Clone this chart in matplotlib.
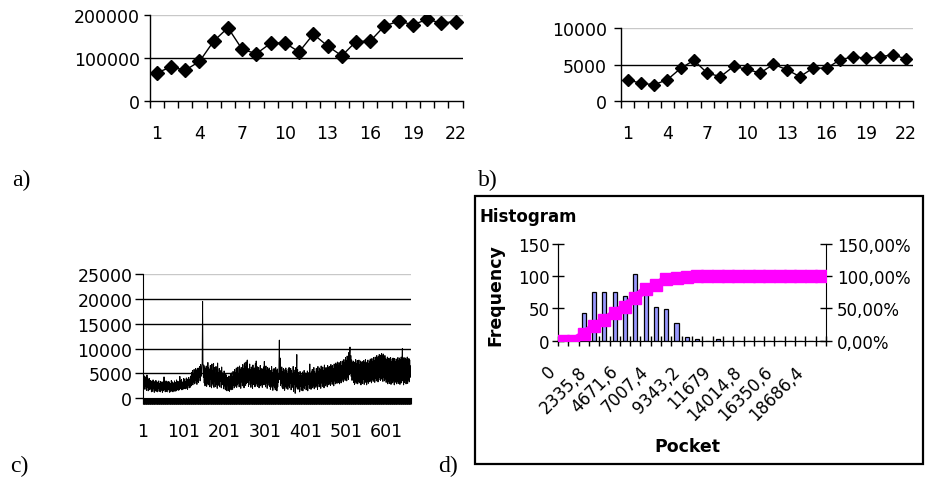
"""
四联图: a) b) 两条 22 点折线, c) 长序列, d) 直方图 + 累积百分比。
"""
import matplotlib
matplotlib.use("Agg")
import matplotlib.pyplot as plt
import matplotlib.transforms as mtransforms
from matplotlib.patches import Rectangle
import numpy as np

plt.rcParams["font.family"] = ["DejaVu Sans"]

# ---- 数据 ----
a_values = [66000, 79000, 72000, 92000, 139000, 170000, 120000, 110000, 134000, 135000, 114000,
            155000, 128000, 105000, 138000, 139000, 174000, 185000, 177000, 189000, 181000, 184000]
b_values = [2950, 2450, 2270, 2950, 4500, 5590, 3860, 3360, 4770, 4360, 3860,
            5050, 4320, 3360, 4550, 4500, 5640, 6090, 5860, 6050, 6360, 5770]
c_values = [
    0, 3500, 4200, 2100, 4500, 1800, 4300, 2500, 3900, 1600, 4700, 2200, 4100, 1500, 3800, 2400, 4000, 1700, 3600, 2000,
    3500, 1300, 3300, 2600, 1400, 3700, 1900, 3200, 1200, 3400, 2300, 1500, 3600, 1400, 2900, 3300, 1300, 3100, 2000, 3500,
    1400, 3000, 2500, 1300, 3400, 1600, 2800, 3200, 1200, 3300, 2100, 1500, 4300, 1800, 3100, 1300, 2700, 3500, 1400, 3200,
    2200, 1300, 3400, 1700, 2900, 3300, 1200, 3000, 2400, 1400, 3600, 1500, 2800, 3300, 1300, 3100, 2000, 1600, 3500, 1400,
    3200, 2500, 1500, 3700, 1800, 3000, 3400, 1600, 3300, 2300, 1700, 4400, 1900, 3500, 2100, 3800, 1700, 3300, 2600, 1800,
    4000, 2000, 3600, 3900, 1900, 3400, 2700, 4100, 2000, 3700, 1800, 3900, 2600, 4200, 2100, 3800, 3000, 2200, 4500, 2500,
    5200, 3100, 5600, 2700, 4900, 3300, 5800, 2900, 5400, 3600, 6000, 3000, 5500, 2800, 5900, 3400, 6100, 3200, 5700, 4300,
    6400, 3500, 6800, 4400, 5200, 6600, 7000, 19500, 5800, 4200, 6700, 3100, 6300, 2500, 5900, 3600, 6500, 2400, 5600, 3000,
    7200, 2700, 6100, 3300, 5800, 2300, 6600, 3800, 5400, 2100, 6900, 3000, 5500, 2600, 7000, 2200, 6200, 3400, 5000, 2400,
    6400, 2800, 5700, 2000, 7100, 3100, 5200, 2600, 6000, 2300, 5600, 3500, 4800, 2100, 6300, 2700, 5100, 2900, 4700, 1900,
    5500, 2500, 4400, 1700, 5000, 2200, 4600, 1500, 4200, 2800, 3900, 1600, 4500, 1400, 3700, 2000, 4800, 1700, 5100, 2300,
    4300, 1800, 5400, 2600, 4900, 2100, 5800, 2400, 5200, 3000, 6100, 2200, 5600, 2700, 6300, 3100, 5000, 2300, 6500, 2800,
    5700, 2000, 6200, 3300, 5300, 2500, 6800, 2900, 5900, 2100, 7100, 3400, 6400, 2600, 7300, 3000, 6600, 7700, 3200, 6000,
    2400, 5500, 3600, 6900, 2700, 5800, 2200, 6300, 3100, 5400, 2000, 6700, 2800, 5900, 3300, 6100, 2300, 7000, 2600, 7500,
    3000, 6400, 2400, 5700, 2900, 6200, 2100, 5600, 3200, 6600, 2500, 5300, 2800, 6000, 2200, 5800, 3500, 6300, 2700, 7400,
    2900, 5900, 2300, 6500, 3100, 5500, 2000, 6200, 2600, 5700, 3300, 6100, 2400, 5200, 1800, 5600, 2700, 6400, 2200, 5100,
    1600, 5800, 2500, 6000, 2100, 5300, 1700, 6200, 2800, 5500, 1500, 5900, 2300, 4900, 3200, 6300, 11700, 3800, 8100, 2600,
    5700, 3000, 6300, 2200, 5400, 1900, 6000, 2700, 5200, 1600, 5800, 2400, 6100, 2000, 5500, 2900, 4800, 1800, 5900, 2500,
    6200, 2100, 5300, 3100, 6000, 1700, 5600, 2600, 4900, 2200, 6400, 1400, 5700, 2800, 5100, 1000, 6200, 2300, 4700, 8800,
    2000, 5800, 1800, 5200, 2700, 4600, 1300, 5400, 2400, 5000, 1600, 4500, 2900, 5300, 1500, 4800, 2200, 5600, 1900, 4400,
    2600, 5100, 1700, 4900, 2300, 5500, 1500, 4600, 2800, 5200, 2000, 6900, 2400, 4700, 1800, 5300, 2700, 5800, 2100, 4900,
    2500, 6200, 1900, 5400, 2900, 5000, 2200, 6000, 2600, 5600, 1800, 6400, 3000, 5300, 2300, 6100, 2700, 5700, 2000, 6500,
    3100, 5900, 2400, 6300, 2800, 5500, 2100, 6700, 3300, 6000, 2500, 6200, 2900, 5800, 2300, 6600, 3200, 6100, 2700, 6400,
    3000, 5900, 2600, 6800, 3400, 6300, 2800, 6600, 3100, 6000, 2500, 6900, 3500, 6400, 2900, 7100, 3300, 6700, 3000, 7300,
    3600, 6600, 3200, 7200, 2900, 6800, 3700, 7400, 3100, 6500, 3400, 7500, 3900, 7000, 3300, 7800, 4100, 7200, 3600, 8200,
    4000, 7600, 3500, 8500, 4300, 7900, 3800, 9200, 4700, 8800, 10300, 5200, 8600, 4400, 7700, 3600, 7100, 4000, 7500, 3200,
    6900, 2800, 7300, 3500, 7800, 3000, 7000, 3700, 7600, 2900, 7200, 3400, 7700, 3100, 6800, 3600, 7500, 2700, 7100, 3300,
    7400, 3000, 6700, 3800, 7600, 2800, 7200, 3500, 7800, 3200, 6900, 2700, 7300, 3400, 7700, 3000, 7000, 3900, 7500, 3300,
    7900, 3600, 7200, 3100, 8000, 3800, 7400, 3400, 8200, 3700, 7600, 3200, 8300, 4000, 7800, 3500, 8600, 3900, 8100, 3300,
    8400, 3700, 8800, 4200, 8000, 3600, 8700, 4100, 9000, 3800, 8500, 3400, 8900, 4300, 8200, 3500, 8600, 3900, 8000, 3200,
    7700, 3600, 8300, 2900, 7500, 3400, 8100, 3000, 7800, 3700, 8200, 2800, 7400, 3300, 7900, 3100, 8100, 3500, 7600, 2700,
    8000, 3200, 7300, 3600, 7900, 2900, 7700, 3400, 8200, 3000, 7500, 3700, 8100, 2800, 7800, 3300, 8300, 3100, 7400, 10000,
    3500, 7900, 2700, 8200, 3200, 7600, 3600, 8100, 2900, 7800, 3400, 8300, 3000, 7500, 3700, 8000, 3300, 7700, 4200, 6500,
]
hist_labels = ["0", "2335,8", "4671,6", "7007,4", "9343,2", "11679", "14014,8", "16350,6", "18686,4"]
hist_counts = [0, 0, 43, 75, 75, 75, 70, 103, 76, 53, 49, 28, 5, 2, 0, 2,
               0, 0, 0, 0, 0, 0, 0, 0, 0, 0]
hist_cum = [0.0, 0.0, 0.10, 0.23, 0.32, 0.43, 0.53, 0.67, 0.80, 0.87, 0.95, 0.98, 0.99,
            1.0, 1.0, 1.0, 1.0, 1.0, 1.0, 1.0, 1.0, 1.0, 1.0, 1.0, 1.0, 1.0]

W, H = 925, 481
fig = plt.figure(figsize=(W / 100, H / 100), dpi=100)


def px_axes(left, top, right, bottom):
    # 像素坐标 -> figure 坐标
    return fig.add_axes([left / W, 1 - bottom / H, (right - left) / W, (bottom - top) / H])


def hgrid(ax, levels):
    # 黑色水平网格, 最上面一条为浅灰
    for i, yv in enumerate(levels):
        col = "#c8c8c8" if i == len(levels) - 1 else "black"
        ax.axhline(yv, color=col, lw=1.0, zorder=1)


def line_panel(ax, values, ymax, ystep, fs, ms):
    n = len(values)
    x = np.arange(1, n + 1)
    ax.plot(x, values, color="black", lw=1.0, marker="D", ms=ms, zorder=3)
    ax.set_xlim(0.5, n + 0.5)
    ax.set_ylim(0, ymax)
    ticks = np.arange(0, ymax + 1, ystep)
    ax.set_yticks(ticks)
    hgrid(ax, ticks[1:])
    ax.set_xticks(x[::3])
    ax.set_xticks(np.arange(0.5, n + 1), minor=True)
    ax.tick_params(axis="x", which="major", length=0, pad=16, labelsize=fs)
    ax.tick_params(axis="x", which="minor", length=5, width=1.0)
    ax.tick_params(axis="y", length=4, width=1.0, pad=3, labelsize=fs)
    for s in ["top", "right"]:
        ax.spines[s].set_visible(False)
    for s in ["left", "bottom"]:
        ax.spines[s].set_linewidth(1.0)


# ---- a) ----
ax_a = px_axes(149.7, 15.7, 462.7, 102.3)
line_panel(ax_a, a_values, 200000, 100000, fs=12.5, ms=6.8)

# ---- b) ----
ax_b = px_axes(621, 29, 912.7, 102.3)
line_panel(ax_b, b_values, 10000, 5000, fs=12.5, ms=6.4)
ax_b.tick_params(axis="y", length=5, pad=5)

# ---- c) ----
ax_c = px_axes(142.7, 275, 410.7, 399.3)
n_c = len(c_values)
xc = np.arange(1, n_c + 1)
ax_c.plot(xc, c_values, color="black", lw=0.7, zorder=3)
ax_c.set_xlim(0.5, n_c + 0.5)
ax_c.set_ylim(0, 25000)
c_ticks = np.arange(0, 25001, 5000)
ax_c.set_yticks(c_ticks)
hgrid(ax_c, c_ticks[1:])
ax_c.set_xticks(np.arange(1, n_c + 1, 100))
ax_c.set_xticks(np.arange(0.5, n_c + 1, 1), minor=True)
ax_c.tick_params(axis="x", which="major", length=0, pad=17, labelsize=12.5)
ax_c.tick_params(axis="x", which="minor", length=4.5, width=0.8)
ax_c.tick_params(axis="y", length=5.5, width=1.0, pad=2, labelsize=12.5)
for s in ["top", "right"]:
    ax_c.spines[s].set_visible(False)

# ---- d) 直方图 ----
fig.add_artist(Rectangle((475 / W, 1 - 465 / H), 448 / W, 268 / H, transform=fig.transFigure,
                         fill=False, edgecolor="black", lw=1.6))
ax_d = px_axes(558, 245, 826, 341.7)
nb = len(hist_counts)
xb = np.arange(nb)
ax_d.bar(xb, hist_counts, width=0.4, color="#9999ff", edgecolor="black", lw=0.9, zorder=2)
ax_d.set_xlim(-0.5, nb - 0.5)
ax_d.set_ylim(0, 150)
ax_d.set_yticks([0, 50, 100, 150])
ax_d.set_xticks(xb[::3])
ax_d.set_xticklabels(hist_labels)
ax_d.set_xticks(np.arange(-0.5, nb), minor=True)
ax_d.tick_params(axis="x", which="major", length=0, pad=20, labelsize=12)
ax_d.tick_params(axis="x", which="minor", direction="inout", length=7, width=1.0)
ax_d.tick_params(axis="y", direction="inout", length=8, width=1.0, pad=2, labelsize=12)
off = mtransforms.ScaledTranslation(-10 / 100, 0, fig.dpi_scale_trans)
for lab in ax_d.get_xticklabels():
    lab.set_rotation(45)
    lab.set_ha("right")
    lab.set_va("center")
    lab.set_rotation_mode("anchor")
    lab.set_transform(lab.get_transform() + off)
ax_d.spines["top"].set_visible(False)
ax_d.spines["right"].set_visible(False)

tw = ax_d.twinx()
tw.plot(xb, hist_cum, color="#ff00ff", lw=5.5, marker="s", ms=8.5, zorder=4)
tw.set_ylim(0, 1.5)
tw.set_yticks([0, 0.5, 1.0, 1.5])
tw.set_yticklabels([f"{v * 100:.2f}%".replace(".", ",") for v in [0, 0.5, 1.0, 1.5]])
tw.tick_params(axis="y", direction="inout", length=8, width=1.0, pad=4, labelsize=12)
tw.spines["top"].set_visible(False)

fig.text(479 / W, 1 - 216.7 / H, "Histogram", ha="left", va="center", fontsize=12, weight="bold")
fig.text(495 / W, 1 - 295 / H, "Frequency", ha="center", va="center", rotation=90,
         fontsize=12.5, weight="bold")
fig.text(687 / W, 1 - 447 / H, "Pocket", ha="center", va="center", fontsize=12.5, weight="bold")

# ---- 子图编号 ----
for lbl, px, py in [("a)", 12, 180), ("b)", 478, 180), ("c)", 10, 466), ("d)", 438, 466)]:
    fig.text(px / W, 1 - py / H, lbl, ha="left", va="center", fontsize=17, family="Liberation Serif")

fig.savefig("out.png", dpi=100)
plt.close(fig)
